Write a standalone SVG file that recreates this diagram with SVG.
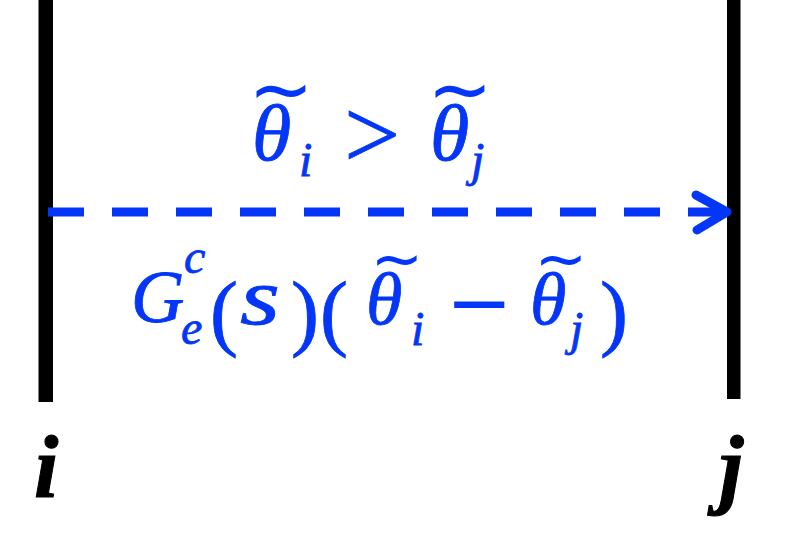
<svg xmlns="http://www.w3.org/2000/svg" width="788" height="554" viewBox="0 0 788 554">
<style>
.bar{fill:#000}
.m{font-family:"Liberation Serif","DejaVu Serif",serif;font-style:italic;fill:#0436F8;stroke:#0436F8;stroke-width:0.8}
.u{font-family:"Liberation Serif","DejaVu Serif",serif;font-style:normal;fill:#0436F8;stroke:#0436F8;stroke-width:0.8}
.t{font-family:"DejaVu Sans",sans-serif;fill:#0436F8;text-anchor:middle}
.big{font-size:80px}
.mid{font-size:74px}
.par{font-size:84px}
.sub{font-size:48px}
.lbl{font-family:"Liberation Serif","DejaVu Serif",serif;font-style:italic;font-weight:bold;font-size:88px;fill:#000;stroke:#000;stroke-width:1}
.dash{stroke:#0436F8;stroke-width:9;stroke-dasharray:36 28;fill:none}
</style>
<defs>
<marker id="arrow" markerUnits="userSpaceOnUse" markerWidth="40" markerHeight="50" viewBox="0 0 40 50" refX="30" refY="22" orient="auto" overflow="visible">
<path d="M2 5 L33 22 L3 40" fill="none" stroke="#0436F8" stroke-width="9" stroke-linecap="round" stroke-linejoin="round"/>
</marker>
</defs>
<rect width="788" height="554" fill="#fff"/>
<g id="bus-i">
<rect class="bar" x="38.5" y="0" width="14.5" height="402"/>
<text class="lbl" x="34" y="497">i</text>
</g>
<g id="bus-j">
<rect class="bar" x="727" y="0" width="13.5" height="399"/>
<text class="lbl" x="719" y="497">j</text>
</g>
<g id="connectors">
<line class="dash" x1="48" y1="212" x2="724" y2="212" marker-end="url(#arrow)"/>
</g>
<g id="label-top">
<text class="m big" x="252" y="160">θ</text>
<text class="t" x="281" y="116" font-size="78">~</text>
<text class="m sub" x="299" y="176">i</text>
<text class="u" x="344" y="168" font-size="100">&gt;</text>
<text class="m big" x="430" y="160">θ</text>
<text class="t" x="460" y="116" font-size="78">~</text>
<text class="m sub" x="471" y="176">j</text>
</g>
<g id="label-bottom">
<text class="m mid" x="131" y="322">G</text>
<text class="m sub" x="184" y="273">c</text>
<text class="m sub" x="181" y="344">e</text>
<text class="u par" x="210" y="340">(</text>
<text class="m" x="240" y="324" font-size="80" textLength="40" lengthAdjust="spacingAndGlyphs">s</text>
<text class="u par" x="291" y="340">)</text>
<text class="u par" x="320" y="340">(</text>
<text class="m mid" x="366" y="324">θ</text>
<text class="t" x="397" y="280" font-size="63">~</text>
<text class="m sub" x="411" y="345">i</text>
<text class="t" x="479" y="330" font-size="80">−</text>
<text class="m mid" x="530" y="324">θ</text>
<text class="t" x="561" y="280" font-size="63">~</text>
<text class="m sub" x="570" y="345">j</text>
<text class="u par" x="600" y="340">)</text>
</g>
</svg>
